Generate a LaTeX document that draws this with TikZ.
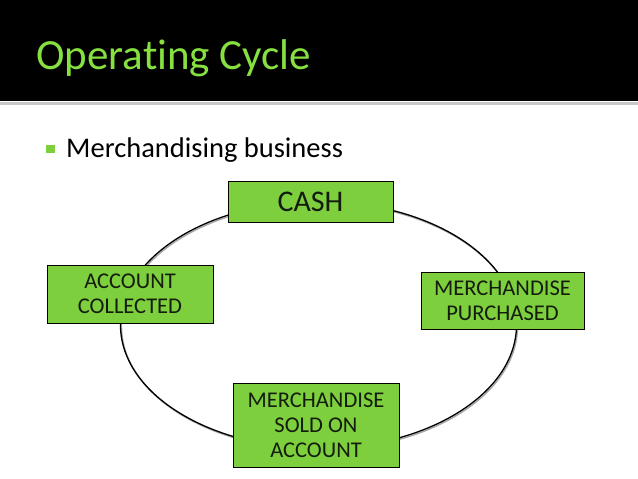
\documentclass[tikz,border=0pt]{standalone}
\usepackage{fontspec}
\setmainfont{Carlito}[Ligatures=NoCommon]
\usepackage{tikz}
\usetikzlibrary{positioning,calc}
\definecolor{cycleGreen}{HTML}{7DCF3E}
\definecolor{titleGreen}{HTML}{86E03F}
\definecolor{cycleText}{HTML}{141C0E}

\begin{document}
\begin{tikzpicture}[x=1pt,y=-1pt]
    \tikzset{
      cbox/.style={draw=black, line width=0.9pt, fill=cycleGreen, text=cycleText,
        align=center, inner sep=0pt},
      ctext/.style={font=\fontsize{22.5}{25}\selectfont}
    }

    % Page and header bar
    \fill[white] (0,0) rectangle (638,479);
    \useasboundingbox (0,0) rectangle (638,479);
    \fill[black] (0,0) rectangle (638,100.5);
    \fill[black!22] (0,102.3) rectangle (638,105);
    \node[font=\fontsize{43}{46}\selectfont, text=titleGreen, anchor=base west, inner sep=0pt]
      (title) at (36,69) {Operating Cycle};

    % Bullet line
    \fill[cycleGreen] (46,145) rectangle (54.5,153);
    \node[font=\fontsize{28.5}{31}\selectfont, anchor=base west, inner sep=0pt]
      (bullet) at (66,157) {Merchandising business};

    % The cycle
    \draw[black!35, line width=1.4pt] (319.5,326.3) ellipse [x radius=198, y radius=123.5];
    \draw[black, line width=1.3pt] (318.5,325) ellipse [x radius=198, y radius=123.5];

    % Stages
    \node[cbox, minimum width=165, minimum height=41, font=\fontsize{30}{32}\selectfont]
      (cash) at (310.5,201.5) {CASH};
    \node[cbox, ctext, minimum width=163, minimum height=57]
      (purchased) at (502.5,300.5) {MERCHANDISE\\PURCHASED};
    \node[cbox, ctext, minimum width=166, minimum height=84]
      (sold) at (316,425) {MERCHANDISE\\SOLD ON\\ACCOUNT};
    \node[cbox, ctext, minimum width=166, minimum height=58]
      (collected) at (130,294) {ACCOUNT\\COLLECTED};
  \end{tikzpicture}
\end{document}
